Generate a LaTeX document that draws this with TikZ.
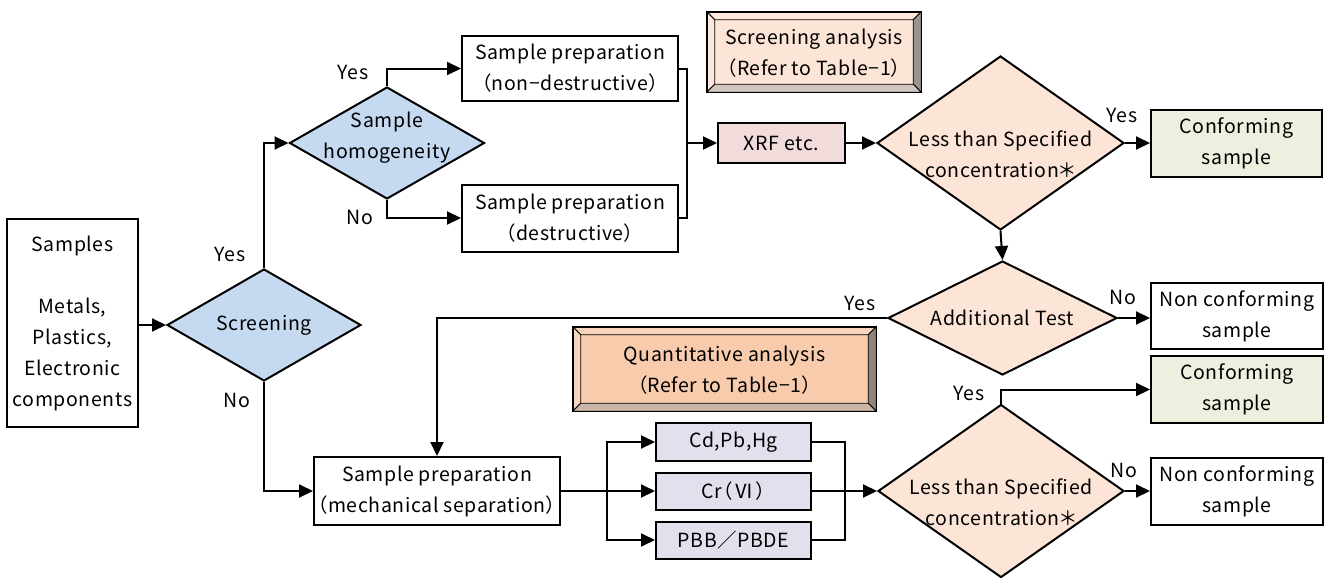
\documentclass[tikz,border=0pt]{standalone}
\usepackage{fontspec}
\setmainfont{Noto Sans CJK JP}[RawFeature=+palt, LetterSpace=3]
\usetikzlibrary{shapes.geometric,arrows.meta}
\definecolor{qblue}{HTML}{C5D9F1}
\definecolor{qpeach}{HTML}{FCE4D6}
\definecolor{qgreen}{HTML}{EBF1DE}
\definecolor{qpink}{HTML}{F2DCDB}
\definecolor{qlav}{HTML}{E4DFEC}
\definecolor{qorange}{HTML}{F8CBAD}
% bevelled frame around a node: #1 node, #2 top/left face, #3 right face, #4 bottom face, #5 inset
\newcommand\bevelframe[5]{%
  \filldraw[fill=#2, line width=0.8pt] (#1.north west) -- (#1.north east) -- ([shift={(-#5,#5)}]#1.north east) -- ([shift={(#5,#5)}]#1.north west) -- cycle;
  \filldraw[fill=#2, line width=0.8pt] (#1.north west) -- ([shift={(#5,#5)}]#1.north west) -- ([shift={(#5,-#5)}]#1.south west) -- (#1.south west) -- cycle;
  \filldraw[fill=#3, line width=0.8pt] (#1.north east) -- (#1.south east) -- ([shift={(-#5,-#5)}]#1.south east) -- ([shift={(-#5,#5)}]#1.north east) -- cycle;
  \filldraw[fill=#4, line width=0.8pt] (#1.south west) -- (#1.south east) -- ([shift={(-#5,-#5)}]#1.south east) -- ([shift={(#5,-#5)}]#1.south west) -- cycle;
  \draw[line width=1.4pt] (#1.north west) rectangle (#1.south east);
}
\begin{document}
\begin{tikzpicture}[x=1pt,y=-1pt,
  every node/.style={font=\fontsize{19.5pt}{31pt}\selectfont},
  box/.style={draw, line width=2pt, fill=white, align=center, inner sep=0pt},
  dia/.style={diamond, draw, line width=2pt, inner sep=0pt},
  dtext/.style={align=center, inner sep=0pt},
  lab/.style={inner sep=0pt},
  conn/.style={line width=2pt},
  arr/.style={line width=2pt, -{Triangle[length=14pt,width=13pt]}},
  bevelbox/.style={align=center, inner sep=0pt}]
\useasboundingbox (0,0) rectangle (1331,579);

% start and first decision
\node[box, minimum width=131pt, minimum height=208pt] (samples) at (72.5,323)
  {Samples\\[31pt]Metals,\\Plastics,\\Electronic\\components};
\node[dia, fill=qblue, minimum width=194pt, minimum height=112pt] (scr) at (264,325) {};
\node[dtext] (scrt) at (264,325) {Screening};
\node[dia, fill=qblue, minimum width=195pt, minimum height=112pt] (hom) at (387,143) {};
\node[dtext] (homt) at (387,138) {Sample\\homogeneity};

% sample preparation for screening
\node[box, minimum width=216pt, minimum height=65pt] (nd) at (570,68.5) {Sample preparation\\（non−destructive）};
\node[box, minimum width=216pt, minimum height=67pt] (de) at (570,218) {Sample preparation\\（destructive）};
\node[box, fill=qpink, minimum width=127pt, minimum height=40pt] (xrf) at (781.5,143) {XRF etc.};
\coordinate (j1) at (687,143);

% screening analysis banner
\node[bevelbox, fill=qpeach, minimum width=214pt, minimum height=80pt] (sa) at (814,52) {};
\bevelframe{sa}{qpeach!80!white}{qpeach!45!black!70}{qpeach!70!black!60}{8}
\node[dtext] (sat) at (814,53) {Screening analysis\\（Refer to Table−1）};

% screening decision
\node[dia, fill=qpeach, minimum width=247pt, minimum height=174pt] (d1) at (1000.5,143) {};
\node[dtext] (d1t) at (1000.5,154) {Less than Specified\\concentration＊};
\node[box, fill=qgreen, minimum width=171pt, minimum height=67pt] (c1) at (1236.5,143.5) {Conforming\\sample};

\node[dia, fill=qpeach, minimum width=229pt, minimum height=114pt] (at) at (1002.5,318) {};
\node[dtext] (att) at (1002.5,318) {Additional Test};
\node[box, minimum width=172pt, minimum height=66pt] (n1) at (1237,316) {Non conforming\\sample};

% quantitative analysis banner
\node[bevelbox, fill=qorange, minimum width=303pt, minimum height=84pt] (qa) at (724.5,369) {};
\bevelframe{qa}{qorange!80!white}{qorange!45!black!75}{qorange!70!black!65}{8}
\node[dtext] (qat) at (724.5,370) {Quantitative analysis\\（Refer to Table−1）};

% quantitative branch
\node[box, minimum width=246pt, minimum height=68pt] (mech) at (437,491) {Sample preparation\\（mechanical separation）};
\node[box, fill=qlav, minimum width=155pt, minimum height=38pt] (cd) at (733.5,442) {Cd,Pb,Hg};
\node[box, fill=qlav, minimum width=155pt, minimum height=37pt] (cr) at (733.5,491) {Cr\kern1pt（\kern2pt Ⅵ\kern2pt）};
\node[box, fill=qlav, minimum width=155pt, minimum height=37pt] (pb) at (733.5,540) {PBB／PBDE};
\coordinate (b1) at (607,491);
\coordinate (m1) at (845,491);

\node[dia, fill=qpeach, minimum width=246pt, minimum height=173pt] (d3) at (1001,491) {};
\node[dtext] (d3t) at (1001,502) {Less than Specified\\concentration＊};
\node[box, fill=qgreen, minimum width=172pt, minimum height=67pt] (c2) at (1237,389.5) {Conforming\\sample};
\node[box, minimum width=172pt, minimum height=67pt] (n2) at (1237,491.5) {Non conforming\\sample};

% connectors
\draw[arr] (samples.east |- scr.west) -- (scr.west);
\draw[arr] (scr.north) |- (hom.west);
\draw[arr] (scr.south) |- (mech.west);
\draw[arr] (hom.north) |- (nd.west);
\draw[arr] (hom.south) |- (de.west);
\draw[conn] (nd.east) -| (j1) |- (de.east);
\draw[arr] (j1) -- (xrf.west);
\draw[arr] (xrf.east) -- (d1.west);
\draw[arr] (d1.east) -- (d1.east -| c1.west);
\draw[arr] (d1.south) -- (at.north);
\draw[arr] (at.east) -- (at.east -| n1.west);
\draw[arr] (at.west) -| (mech.north);
\draw[conn] (mech.east) -- (b1);
\draw[arr] (b1) |- (cd.west);
\draw[arr] (b1) -- (cr.west);
\draw[arr] (b1) |- (pb.west);
\draw[conn] (cd.east) -| (m1) |- (pb.east);
\draw[conn] (cr.east) -- (m1);
\draw[arr] (m1) -- (d3.west);
\draw[arr] (d3.north) |- (c2.west);
\draw[arr] (d3.east) -- (d3.east -| n2.west);

% branch labels
\node[lab] (l1) at (230,254) {Yes};
\node[lab] (l2) at (237,400) {No};
\node[lab] (l3) at (353,72) {Yes};
\node[lab] (l4) at (360,217) {No};
\node[lab] (l5) at (1122,115) {Yes};
\node[lab] (l6) at (1123,297) {No};
\node[lab] (l7) at (860,303) {Yes};
\node[lab] (l8) at (969,393) {Yes};
\node[lab] (l9) at (1124,470) {No};
\end{tikzpicture}
\end{document}
